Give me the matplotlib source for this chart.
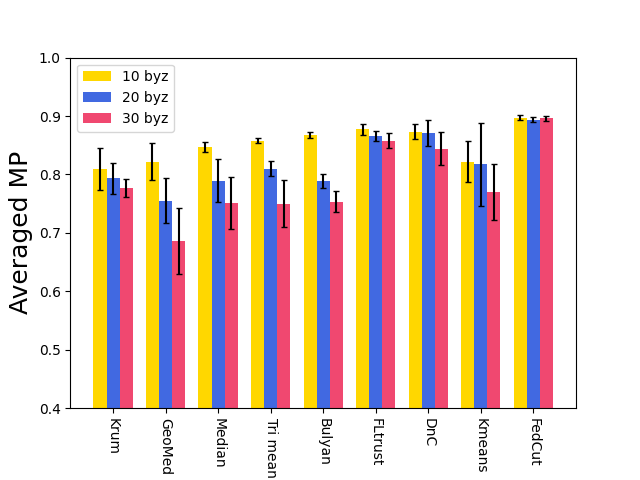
import numpy as np
import matplotlib
matplotlib.use('Agg')
import matplotlib.pyplot as plt

# 数据
methods = ['Krum', 'GeoMed', 'Median', 'Tri mean', 'Bulyan', 'FLtrust', 'DnC', 'Kmeans', 'FedCut']
mp_10 = [0.810, 0.822, 0.847, 0.858, 0.868, 0.877, 0.873, 0.822, 0.897]
err_10 = [0.036, 0.031, 0.008, 0.005, 0.005, 0.009, 0.013, 0.035, 0.0045]
mp_20 = [0.793, 0.755, 0.789, 0.810, 0.789, 0.866, 0.871, 0.817, 0.894]
err_20 = [0.026, 0.039, 0.037, 0.013, 0.012, 0.0085, 0.023, 0.071, 0.0035]
mp_30 = [0.777, 0.686, 0.751, 0.750, 0.753, 0.858, 0.844, 0.770, 0.896]
err_30 = [0.015, 0.057, 0.045, 0.040, 0.018, 0.013, 0.028, 0.048, 0.004]

x = np.arange(len(methods))
w = 0.25

fig, ax = plt.subplots(figsize=(6.4, 4.8), dpi=100)
plt.subplots_adjust(left=0.11, bottom=0.15)

eb = dict(elinewidth=1.5, capthick=1, ecolor='black')
ax.bar(x - w, mp_10, w, yerr=err_10, capsize=2, color='#FFD700', label='10 byz', error_kw=eb)
ax.bar(x, mp_20, w, yerr=err_20, capsize=2, color='#4169E1', label='20 byz', error_kw=eb)
ax.bar(x + w, mp_30, w, yerr=err_30, capsize=2, color='#F04870', label='30 byz', error_kw=eb)

ax.set_ylim(0.4, 1.0)
ax.set_xticks(x)
ax.set_xticklabels(methods, rotation=-90)
ax.set_ylabel('Averaged MP', fontsize=18)
ax.legend(loc='upper left')

plt.savefig('out.png')
